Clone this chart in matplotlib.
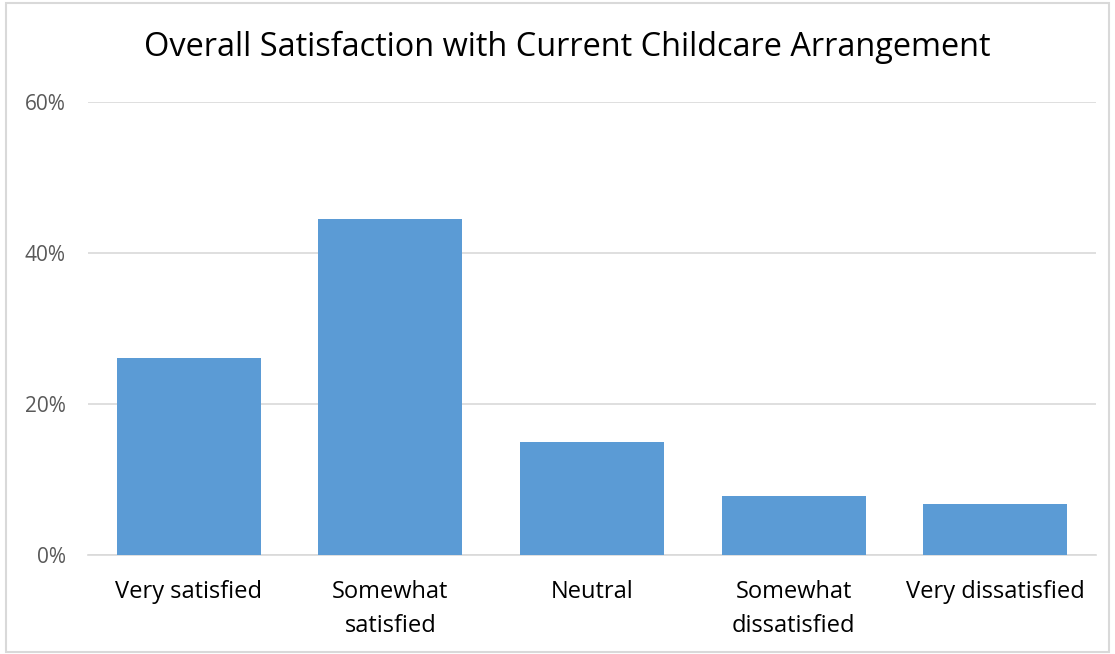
import matplotlib
matplotlib.use("Agg")
import matplotlib.pyplot as plt
from matplotlib.patches import Rectangle
from matplotlib.ticker import FuncFormatter

categories = ["Very satisfied", "Somewhat\nsatisfied", "Neutral", "Somewhat\ndissatisfied", "Very dissatisfied"]
values = [26.1, 44.5, 15.0, 7.8, 6.8]
yticks = [0, 20, 40, 60]

plt.rcParams['font.family'] = ['Open Sans', 'DejaVu Sans']

fig = plt.figure(figsize=(11.15, 6.54), dpi=100)
W, H = 1115, 654
ax = fig.add_axes([88 / W, 1 - 555 / H, (1096 - 88) / W, (555 - 102) / H])

x = list(range(len(categories)))
ax.bar(x, values, width=0.715, color="#5b9bd5", zorder=3)
ax.set_xlim(-0.5, len(categories) - 0.5)
ax.set_ylim(0, 60)
ax.set_yticks(yticks)
ax.yaxis.set_major_formatter(FuncFormatter(lambda v, p: f"{int(v)}%"))
ax.grid(axis="y", color="#d9d9d9", linewidth=1.2, zorder=0)
for s in ["top", "right", "left"]:
    ax.spines[s].set_visible(False)
ax.spines["bottom"].set_color("#d9d9d9")
ax.spines["bottom"].set_linewidth(1.2)
ax.tick_params(axis="both", length=0)
ax.tick_params(axis="y", labelsize=15, labelcolor="#595959", pad=16)
ax.set_xticks(x)
ax.set_xticklabels(categories, fontsize=17, color="#000000", linespacing=1.55)
ax.tick_params(axis="x", pad=18)
ax.set_axisbelow(True)

fig.text(567 / W, 1 - 47 / H, "Overall Satisfaction with Current Childcare Arrangement",
         ha="center", va="center", fontsize=23.4, color="#000000")

fig.patches.append(Rectangle((6 / W, 2 / H), (1109 - 6) / W, (651 - 2) / H,
                             transform=fig.transFigure, fill=False,
                             edgecolor="#d9d9d9", linewidth=1.5))

fig.savefig("out.png", dpi=100, facecolor="white")
